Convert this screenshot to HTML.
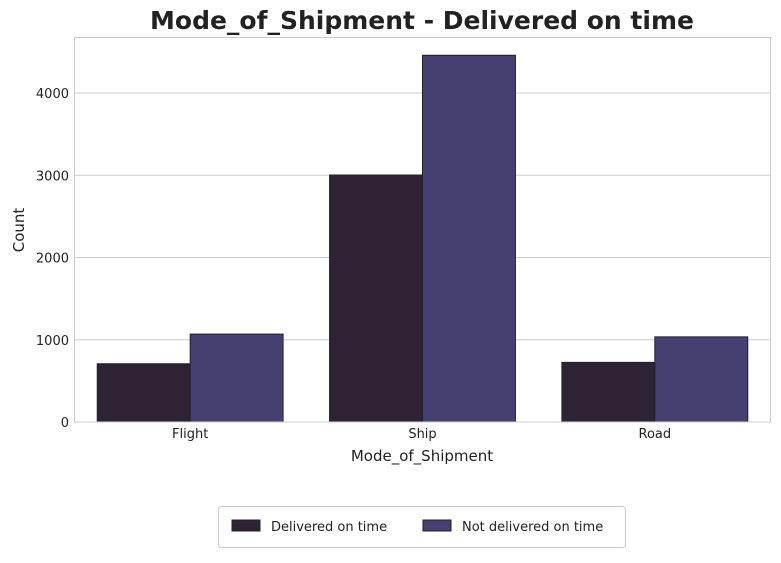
<!DOCTYPE html>
<html><head><meta charset="utf-8"><style>
body{margin:0;background:#fff;font-family:"Liberation Sans","DejaVu Sans",sans-serif;}
</style></head><body>
<svg width="781" height="558" viewBox="0 0 781 558" style="font-family:'DejaVu Sans','Liberation Sans',sans-serif">
<text x="422" y="29" text-anchor="middle" font-size="25" font-weight="bold" fill="#222">Mode_of_Shipment - Delivered on time</text>
<g id="grid"></g>
<g id="bars"></g>
<rect x="74.5" y="37.5" width="696" height="384.5" fill="none" stroke="#ccc"/>
<g id="yticks"></g>
<g id="xticks"></g>
<text x="24" y="230" text-anchor="middle" font-size="15" fill="#222" transform="rotate(-90 24 230)">Count</text>
<text x="422" y="461" text-anchor="middle" font-size="15" fill="#222">Mode_of_Shipment</text>
<g>
<rect x="218.5" y="506.5" width="407" height="41" rx="3" fill="#fff" stroke="#ccc"/>
<rect x="232" y="520" width="28" height="11" fill="#2e2335" stroke="#222"/>
<text x="271" y="531" font-size="13" fill="#222">Delivered on time</text>
<rect x="423" y="520" width="28" height="11" fill="#463f72" stroke="#222"/>
<text x="462" y="531" font-size="13" fill="#222">Not delivered on time</text>
</g>
</svg>
<script>
const categories=["Flight","Ship","Road"];
const delivered=[708,3003,725];
const notDelivered=[1069,4459,1035];
const yTicks=[0,1000,2000,3000,4000];
const NS="http://www.w3.org/2000/svg";
const x0=74,x1=771,y0=422,yMax=4681;
function yScale(v){return y0-v*(y0-37)/yMax;}
const band=(x1-x0)/categories.length;
function xCenter(i){return x0+band*(i+0.5);}
function mk(tag,attrs,parent){const e=document.createElementNS(NS,tag);for(const k in attrs)e.setAttribute(k,attrs[k]);parent.appendChild(e);return e;}
const grid=document.getElementById('grid'),yt=document.getElementById('yticks'),xt=document.getElementById('xticks'),bars=document.getElementById('bars');
yTicks.forEach(v=>{
 const y=yScale(v);
 const l=mk('line',{x1:x0,x2:x1,y1:y,y2:y,stroke:'#ccc'},grid);
 
 
 const t=mk('text',{x:69,y:y+5,'text-anchor':'end','font-size':13,fill:'#222'},yt);
 t.textContent=v;
 
 
});
const bw=band*0.4;
categories.forEach((c,i)=>{
 const cx=xCenter(i);
 const t=mk('text',{x:cx,y:438,'text-anchor':'middle','font-size':13,fill:'#222'},xt);
 t.textContent=c;
 
 
 const b1=mk('rect',{x:cx-bw,y:yScale(delivered[i]),width:bw,height:y0-yScale(delivered[i]),fill:'#2e2335',stroke:'#222','stroke-width':1},bars);
 
 
 const b2=mk('rect',{x:cx,y:yScale(notDelivered[i]),width:bw,height:y0-yScale(notDelivered[i]),fill:'#463f72',stroke:'#222','stroke-width':1},bars);
 
 
});
</script>
</body></html>
